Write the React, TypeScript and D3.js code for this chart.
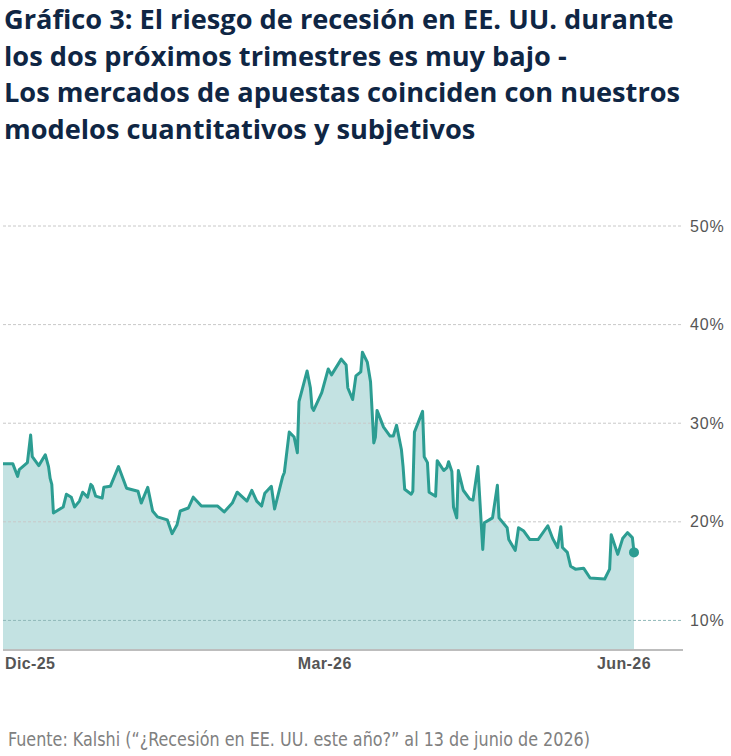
import React, { useEffect } from "react";
import * as d3 from "d3";

// días desde el 1-dic-2025 (lectura aproximada del gráfico)
const dias = [
  0, 3, 4.5, 5, 7.5, 8.5, 9, 11, 13, 14, 14.5, 15, 15.5, 18.5, 19.5, 21, 22, 23.5, 24.5, 26,
  27, 27.5, 28.5, 30.5, 31, 33, 35.5, 38, 41.5, 42.5, 44.5, 46, 47.5, 50.5, 52, 53.5, 54.5, 57, 58.5, 61,
  66, 68, 70.5, 72, 75, 76.5, 78, 79.5, 80.5, 82.5, 83.5, 85, 86, 86.5, 88, 89.5, 90.5, 91, 93.5, 94.5,
  95, 95.5, 98, 100, 101, 104, 105.5, 106, 107.5, 108.5, 110, 110.5, 112, 113, 114, 114.5, 115, 117, 119, 120,
  121, 122.5, 123, 123.5, 125.5, 126, 126.5, 129, 129.5, 130.5, 131, 133, 133.5, 135.5, 136.5, 137, 138, 138.5, 139.5, 140,
  141.5, 143.5, 144.5, 146, 147.5, 148, 150.5, 152, 152.5, 155, 155.5, 157.5, 158.5, 160, 162, 164.5, 167.5, 169, 170.5, 171.5,
  172, 173.5, 174.5, 176, 178.5, 180.5, 185, 186.5, 187, 189, 190.5, 192, 193.5, 194,
];

// probabilidad de recesión (%)
const riesgo = [
  25.9, 25.9, 24.6, 25.3, 26.0, 28.8, 26.6, 25.7, 26.8, 25.6, 24.4, 23.8, 20.9, 21.5, 22.8, 22.5, 21.5, 22.1, 23.0, 22.5,
  23.8, 23.6, 22.6, 22.4, 23.5, 23.6, 25.6, 23.4, 23.1, 21.9, 23.5, 21.1, 20.5, 20.2, 18.8, 19.7, 21.1, 21.4, 22.5, 21.6,
  21.6, 21.0, 21.9, 23.0, 22.1, 23.2, 22.1, 21.6, 22.9, 23.6, 21.3, 23.3, 24.6, 25.0, 29.1, 28.6, 27.0, 32.2, 35.3, 33.6,
  31.6, 31.3, 33.1, 35.5, 34.9, 36.5, 35.9, 33.6, 32.4, 34.8, 35.2, 37.2, 36.2, 34.2, 28.0, 28.6, 31.3, 29.6, 28.7, 28.7,
  29.8, 27.3, 25.6, 23.3, 22.8, 23.1, 29.1, 31.2, 26.6, 26.0, 23.0, 22.6, 26.2, 25.2, 25.5, 26.1, 25.1, 21.5, 20.4, 25.2,
  23.2, 22.3, 22.2, 25.6, 17.2, 19.9, 20.4, 23.7, 20.4, 19.4, 18.2, 17.1, 19.4, 19.1, 18.2, 18.2, 19.6, 18.3, 17.4, 19.5,
  17.4, 16.9, 15.5, 15.2, 15.3, 14.3, 14.2, 15.2, 18.7, 16.7, 18.3, 18.9, 18.4, 16.9,
];

const inicio = new Date(2025, 11, 1);
const fin = new Date(2026, 5, 13);

const etiquetasX = ["Dic-25", "Mar-26", "Jun-26"];
const fechasX = [new Date(2025, 11, 1), new Date(2026, 2, 1), new Date(2026, 5, 1)];
const ticksY = [10, 20, 30, 40, 50];

const tituloLineas = [
  "Gráfico 3: El riesgo de recesión en EE. UU. durante",
  "los dos próximos trimestres es muy bajo -",
  "Los mercados de apuestas coinciden con nuestros",
  "modelos cuantitativos y subjetivos",
];
const fuente = "Fuente: Kalshi (“¿Recesión en EE. UU. este año?” al 13 de junio de 2026)";

const W = 731;
const H = 756;
const TEAL = "#2c9d92";
const FILL = "#c3e2e2";

export default function App() {
  useEffect(() => {
    document.body.style.margin = "0";
  }, []);

  const datos = dias.map((d, i) => ({
    fecha: d3.timeHour.offset(inicio, Math.round(d * 24)),
    v: riesgo[i],
  }));

  const x = d3.scaleTime().domain([inicio, fin]).range([3, 634]);
  const y = d3.scaleLinear().domain([7, 50]).range([650, 226]);

  const linea = d3
    .line<{ fecha: Date; v: number }>()
    .x((d) => x(d.fecha))
    .y((d) => y(d.v));
  const area = d3
    .area<{ fecha: Date; v: number }>()
    .x((d) => x(d.fecha))
    .y0(y(7))
    .y1((d) => y(d.v));

  const ultimo = datos[datos.length - 1];

  return (
    <svg width={W} height={H} style={{ display: "block", background: "#fff" }}>
      <g fontFamily="'Open Sans', sans-serif" fontWeight={700} fontSize={27.2} fill="#0f2644">
        {tituloLineas.map((t, i) => (
          <text key={i} x={4} y={29 + i * 36.5}>
            {t}
          </text>
        ))}
      </g>

      <path d={area(datos) ?? ""} fill={FILL} />

      {ticksY.map((t) => (
        <line
          key={t}
          x1={3}
          x2={681}
          y1={y(t)}
          y2={y(t)}
          stroke={t === 10 ? "#8fb8b8" : "#c8c8c8"}
          strokeWidth={1}
          strokeDasharray="3,2"
        />
      ))}

      <path d={linea(datos) ?? ""} fill="none" stroke={TEAL} strokeWidth={3} strokeLinejoin="round" />
      <circle cx={x(ultimo.fecha)} cy={y(ultimo.v)} r={5} fill={TEAL} />

      <line x1={3} x2={683} y1={650} y2={650} stroke="#bdbdbd" strokeWidth={2} />

      <g fontFamily="'Liberation Sans', Arial, sans-serif" fill="#555">
        {ticksY.map((t) => (
          <text key={t} x={690} y={y(t)} dominantBaseline="central" fontSize={16} letterSpacing={0.8}>
            {t}%
          </text>
        ))}
        {etiquetasX.map((l, i) => (
          <text key={l} x={x(fechasX[i]) + 2} y={669} fontSize={16} fontWeight={700} letterSpacing={0.4}>
            {l}
          </text>
        ))}
      </g>

      <text
        x={8}
        y={746}
        fontFamily="'Liberation Sans Narrow', 'DejaVu Sans Condensed', sans-serif"
        fontSize={19}
        fill="#808080"
        textLength={582}
        lengthAdjust="spacingAndGlyphs"
      >
        {fuente}
      </text>
    </svg>
  );
}
